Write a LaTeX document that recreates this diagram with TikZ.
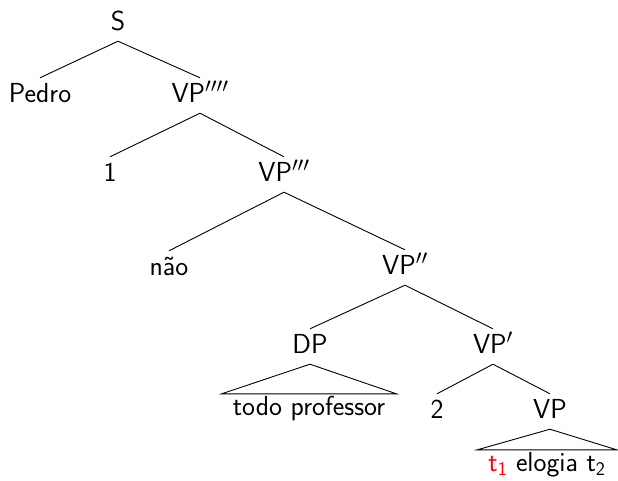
\documentclass[tikz,border=0pt]{standalone}
\renewcommand{\familydefault}{\sfdefault}
\begin{document}
\begin{tikzpicture}[x=1pt, y=-1pt,
  cat/.style={anchor=base, font=\fontsize{27.5}{32}\selectfont,
    text height=18pt, text depth=5pt, inner xsep=2pt, inner ysep=6pt},
  roofleaf/.style={cat, inner xsep=11pt, inner ysep=3pt},
  branch/.style={line width=0.9pt},
]
\useasboundingbox (0,0) rectangle (618,480);

% categories and leaves, placed on their baselines
\node[cat] (S)     at (118, 30)  {S};
\node[cat] (pedro) at (40, 102)  {Pedro};
\node[cat] (vp4)   at (200, 102) {VP$''''$};
\node[cat] (one)   at (110, 181) {1};
\node[cat] (vp3)   at (284, 181) {VP$'''$};
\node[cat] (nao)   at (169, 275) {não};
\node[cat] (vp2)   at (405, 274) {VP$''$};
\node[cat] (dp)    at (310, 353) {DP};
\node[cat] (vp1)   at (493, 353) {VP$'$};
\node[roofleaf] (todo) at (309, 415) {todo professor};
\node[cat] (two)   at (437, 418) {2};
\node[cat] (vp)    at (550, 418) {VP};
\node[roofleaf] (elogia) at (547, 471)
  {\textcolor{red}{t\textsubscript{1}} elogia t\textsubscript{2}};

% branches
\draw[branch] (S.south)   -- (pedro.north);
\draw[branch] (S.south)   -- (vp4.north);
\draw[branch] (vp4.south) -- (one.north);
\draw[branch] (vp4.south) -- (vp3.north);
\draw[branch] (vp3.south) -- (nao.north);
\draw[branch] (vp3.south) -- (vp2.north);
\draw[branch] (vp2.south) -- (dp.north);
\draw[branch] (vp2.south) -- (vp1.north);
\draw[branch] (vp1.south) -- (two.north);
\draw[branch] (vp1.south) -- (vp.north);

% roofs over unanalysed constituents
\draw[branch] (dp.south) -- (todo.north west) -- (todo.north east) -- cycle;
\draw[branch] (vp.south) -- (elogia.north west) -- (elogia.north east) -- cycle;
\end{tikzpicture}
\end{document}
